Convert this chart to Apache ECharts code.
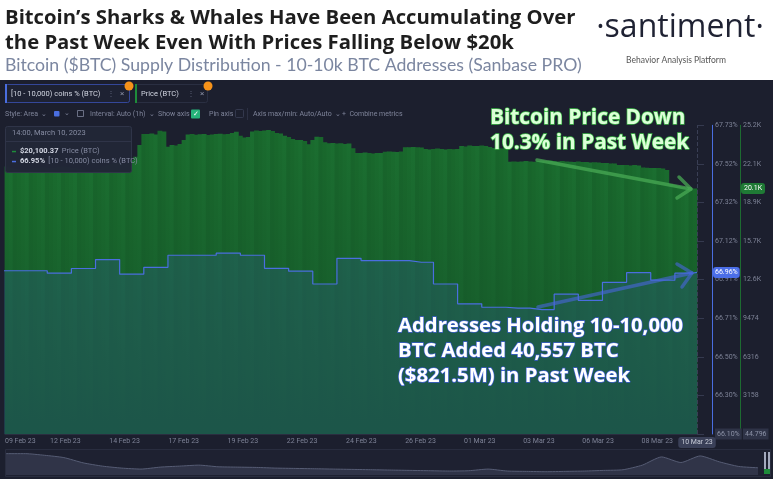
<!DOCTYPE html>
<html><head><meta charset="utf-8">
<script src="https://cdn.jsdelivr.net/npm/echarts@6/dist/echarts.min.js"></script>
<style>html,body{margin:0;padding:0;background:#1c1f2e}#c{width:773px;height:479px}</style>
</head><body><div id="c"></div>
<script>
// ---- data ----
const priceStartUTC = Date.UTC(2023, 1, 9, 20);
const priceStepHours = 4;
const priceUSD = [
  21900, 21800, 21700, 21650, 21600, 21650,
  21700, 21750, 21800, 21850, 21800, 21750,
  21800, 21850, 21900, 21850, 21800, 21750,
  21700, 21600, 21500, 21450, 21600, 21700,
  21900, 22000, 22100, 22200, 22150, 22100,
  22200, 22400, 22690, 23650,
  24550, 24550, 24590, 24510, 24820, 24760,
  23510, 23650, 23610, 23730, 24060, 24510,
  24550, 24490, 24530, 24550, 24470, 24510,
  24550, 24570, 24530, 24550, 24630, 24740,
  24410, 24270, 24310, 24760, 24840, 24800,
  24840, 24880, 24800, 24630, 24590, 24410,
  24310, 24140, 24060, 24060, 23980, 23710,
  24060, 24330, 24310, 23870, 23790, 23820,
  23770, 23790, 23730, 23770, 23380, 23000,
  23000, 23040, 23000, 22960, 23000, 23000,
  23100, 23120, 23100, 23080, 23120, 23460,
  23460, 23490, 23460, 23450, 23320, 23280,
  23320, 23370, 23320, 23280, 23320, 23300,
  23320, 23570, 23530, 23610, 23570, 23570,
  23610, 23570, 23490, 23410, 23380, 23370,
  23380, 22290, 22300, 22290, 22300, 22340,
  22300, 22290, 22340, 22380, 22340, 22380,
  22340, 22300, 22340, 22300, 22290, 22260,
  22300, 22260, 22260, 22220, 22240, 22220,
  22180, 22180, 22140, 22140, 22020, 22020,
  22020, 21970, 22020, 21970, 21810, 21790,
  21770, 21770, 21770, 21730, 21610, 20460,
  20380, 20300, 20210, 20170, 19970, 20100.37
];
const pctStartUTC = Date.UTC(2023, 1, 9);
const pctValues = [
  66.959, 66.959, 66.959, 66.946, 66.971, 67.018, 66.941, 66.977, 67.041, 67.041,
  67.052, 67.041, 66.972, 66.957, 66.889, 67.025, 67.013, 67.013, 67.004, 66.889,
  66.784, 66.766, 66.761, 66.754, 66.835, 66.802, 66.898, 66.949, 66.909, 66.946
];
const pctCurrentTime = Date.UTC(2023, 2, 10, 10);
const pctCurrent = 66.95;
const pctCurrentTag = '66.96%';
const priceCurrent = 20100.37;
const priceCurrentTag = '20.1K';
const xAxisMinUTC = Date.UTC(2023, 1, 9, 18);
const xAxisMaxUTC = Date.UTC(2023, 2, 10, 10);
const xTickTimes = [
  Date.UTC(2023, 1, 9, 18), Date.UTC(2023, 1, 12, 6), Date.UTC(2023, 1, 14, 16, 50),
  Date.UTC(2023, 1, 17, 3, 40), Date.UTC(2023, 1, 19, 14, 30), Date.UTC(2023, 1, 22, 1, 25),
  Date.UTC(2023, 1, 24, 12, 15), Date.UTC(2023, 1, 26, 23, 5), Date.UTC(2023, 2, 1, 10),
  Date.UTC(2023, 2, 3, 20, 50), Date.UTC(2023, 2, 6, 7, 40), Date.UTC(2023, 2, 8, 18, 30)
];
const xCurrentTag = '10 Mar 23';
const pctAxisMin = 66.096, pctAxisMax = 67.728, pctAxisStep = 0.204;
const priceAxisMin = 0, priceAxisMax = 25264, priceAxisStep = 3158;
const priceAxisMinTag = '44.796';
const navValues = [65, 65, 60, 53, 37, 27, 21, 18, 24, 27, 30, 25, 24, 23, 21, 20, 19, 18, 17, 16,
  15, 14, 13, 12, 13, 18, 12, 11, 10, 11, 12, 14, 16, 30, 55, 38, 58, 40, 26, 22];

// ---- build ----
const HOUR = 3600000, DAY = 86400000;
const priceData = priceUSD.map((v, i) => [priceStartUTC + i * priceStepHours * HOUR, v]);
const pctData = pctValues.map((v, i) => [pctStartUTC + i * DAY, v]);
pctData.push([pctCurrentTime, pctCurrent]);
const MONTHS = ['Jan','Feb','Mar','Apr','May','Jun','Jul','Aug','Sep','Oct','Nov','Dec'];
const fmtDay = v => { const d = new Date(v); return String(d.getUTCDate()).padStart(2, '0') + ' ' + MONTHS[d.getUTCMonth()] + ' ' + String(d.getUTCFullYear()).slice(2); };
const stripeShades = ['#1a6b2e', '#19682c', '#1b6f2f', '#18652b', '#1a6a2d', '#1b6e30', '#19672c'];
const UI = 'Roboto, "Noto Sans", sans-serif';
const ANN = '"Open Sans", Lato, sans-serif';

const chart = echarts.init(document.getElementById('c'));
const txt = (text, x, y, size, fill, extra) => ({
  type: 'text', z: 100, style: Object.assign({ text, x, y, fill, fontSize: size, fontFamily: UI, verticalAlign: 'middle' }, extra || {})
});

chart.setOption({
  animation: false,
  backgroundColor: '#1c1f2e',
  grid: [
    { left: 5, right: 76, top: 125.3, bottom: 45 },
    { left: 6, width: 752, top: 452, height: 23 }
  ],
  xAxis: [
    {
      type: 'value', gridIndex: 0, min: xAxisMinUTC, max: xAxisMaxUTC, scale: true,
      axisLine: { show: true, lineStyle: { color: '#2a2e40' } },
      axisTick: { show: false }, splitLine: { show: false },
      axisLabel: { customValues: xTickTimes, formatter: v => fmtDay(v), color: '#7d8296', fontSize: 7, margin: 4, fontFamily: UI, alignMinLabel: 'left' },
      axisPointer: { show: true, value: xAxisMaxUTC, status: 'show', triggerTooltip: false,
        lineStyle: { color: '#3a3f55', width: 1 },
        label: { show: true, formatter: () => xCurrentTag, backgroundColor: '#3a4058', color: '#c9cdd9', fontSize: 7, padding: [2, 3], margin: 3, fontFamily: UI } }
    },
    { type: 'category', gridIndex: 1, show: false, boundaryGap: false, data: navValues.map((v, i) => i) }
  ],
  yAxis: [
    {
      type: 'value', gridIndex: 0, position: 'right', offset: 15,
      min: pctAxisMin, max: pctAxisMax, interval: pctAxisStep,
      axisLine: { show: true, lineStyle: { color: '#4a6ee0', width: 1 } },
      axisTick: { show: false }, splitLine: { show: false },
      axisLabel: {
        color: '#7d8296', fontSize: 7, margin: 3, fontFamily: UI,
        formatter: v => Math.abs(v - pctAxisMin) < 1e-6 ? '{box|' + v.toFixed(2) + '%}' : v.toFixed(2) + '%',
        rich: { box: { backgroundColor: '#2e3347', padding: [2, 2], color: '#8d93a8', fontSize: 7 } }
      },
      axisPointer: { show: true, value: pctCurrent, status: 'show', triggerTooltip: false,
        lineStyle: { opacity: 0 },
        label: { show: true, formatter: () => pctCurrentTag, backgroundColor: '#4b6ee8', color: '#ffffff', fontSize: 7, padding: [2, 2], margin: 1, fontFamily: UI } }
    },
    {
      type: 'value', gridIndex: 0, position: 'right', offset: 43,
      min: priceAxisMin, max: priceAxisMax, interval: priceAxisStep,
      axisLine: { show: true, lineStyle: { color: '#1d6b31', width: 1 } },
      axisTick: { show: false }, splitLine: { show: false },
      axisLabel: {
        color: '#7d8296', fontSize: 7, margin: 3, fontFamily: UI,
        formatter: v => v === priceAxisMin ? '{box|' + priceAxisMinTag + '}' : (v >= 10000 ? (Math.floor(v / 100) / 10).toFixed(1) + 'K' : String(v)),
        rich: { box: { backgroundColor: '#2e3347', padding: [2, 2], color: '#8d93a8', fontSize: 7 } }
      },
      axisPointer: { show: true, value: priceCurrent, status: 'show', triggerTooltip: false,
        lineStyle: { opacity: 0 },
        label: { show: true, formatter: () => priceCurrentTag, backgroundColor: '#1f7a35', color: '#ffffff', fontSize: 7, padding: [2, 3], margin: 1, fontFamily: UI } }
    },
    {
      type: 'value', gridIndex: 0, position: 'right', offset: 0,
      min: pctAxisMin, max: pctAxisMax, interval: pctAxisStep,
      axisLine: { show: false }, axisLabel: { show: false }, splitLine: { show: false },
      axisTick: { show: true, length: 7, lineStyle: { color: '#353a4f' } }
    },
    { type: 'value', gridIndex: 1, show: false, min: 0, max: 70 }
  ],
  series: [
    {
      type: 'bar', xAxisIndex: 0, yAxisIndex: 1, data: priceData, barWidth: 4.8, z: 2,
      itemStyle: {
        color: p => {
          const c = stripeShades[(p.dataIndex * 5 + (p.dataIndex >> 2)) % stripeShades.length];
          return { type: 'linear', x: 0, y: 0, x2: 0, y2: 1, colorStops: [{ offset: 0, color: c }, { offset: 1, color: '#15552a' }] };
        }
      }
    },
    {
      type: 'line', xAxisIndex: 0, yAxisIndex: 0, data: pctData, step: 'middle', symbol: 'none', z: 3,
      lineStyle: { color: '#4a6ee0', width: 1.2 },
      areaStyle: { origin: 'start', color: 'rgba(58,90,190,0.30)' }
    },
    {
      type: 'line', xAxisIndex: 1, yAxisIndex: 3, data: navValues, symbol: 'none', smooth: 0.2, z: 3,
      lineStyle: { color: '#565c74', width: 1 },
      areaStyle: { color: '#383d52' }
    }
  ],
  graphic: { elements: [
    { type: 'rect', z: 50, shape: { x: 0, y: 0, width: 773, height: 80 }, style: { fill: '#ffffff' } },
    txt('Bitcoin’s Sharks & Whales Have Been Accumulating Over', 5, 18, 20.3, '#1e1e1e', { fontFamily: '"Open Sans", sans-serif', fontWeight: 'bold' }),
    txt('the Past Week Even With Prices Falling Below $20k', 5, 43, 20.3, '#1e1e1e', { fontFamily: '"Open Sans", sans-serif', fontWeight: 'bold' }),
    txt('Bitcoin ($BTC) Supply Distribution - 10-10k BTC Addresses (Sanbase PRO)', 5, 65, 17.7, '#7b86a0', { fontFamily: 'Lato, sans-serif' }),
    txt('·santiment·', 680, 28, 32, '#1f2233', { fontFamily: '"Open Sans", sans-serif', align: 'center' }),
    txt('Behavior Analysis Platform', 676, 60, 8.5, '#555555', { fontFamily: 'Lato, sans-serif', align: 'center' }),

    { type: 'rect', z: 100, shape: { x: 5.5, y: 84.5, width: 124, height: 18, r: 2 }, style: { fill: '#1e2233', stroke: '#34479a', lineWidth: 1 } },
    { type: 'rect', z: 101, shape: { x: 5, y: 84, width: 2, height: 19 }, style: { fill: '#4a6ee0' } },
    txt('[10 - 10,000) coins % (BTC)', 11, 94, 7.5, '#d2d6e2'),
    txt('⋮', 107, 94, 8, '#5d6278'),
    txt('×', 120, 94, 8, '#8a8fa3'),
    { type: 'circle', z: 102, shape: { cx: 129, cy: 86, r: 4.5 }, style: { fill: '#f7931a' } },
    txt('B', 129, 86.3, 5.5, '#ffffff', { align: 'center', fontWeight: 'bold' }),
    { type: 'rect', z: 100, shape: { x: 135.5, y: 84.5, width: 72, height: 18, r: 2 }, style: { fill: '#1c1f2e', stroke: '#2a2f42', lineWidth: 1 } },
    { type: 'rect', z: 101, shape: { x: 135, y: 84, width: 2, height: 19 }, style: { fill: '#1e8c3a' } },
    txt('Price (BTC)', 141, 94, 7.5, '#d2d6e2'),
    txt('⋮', 187, 94, 8, '#5d6278'),
    txt('×', 200, 94, 8, '#8a8fa3'),
    { type: 'circle', z: 102, shape: { cx: 208, cy: 86, r: 4.5 }, style: { fill: '#f7931a' } },
    txt('B', 208, 86.3, 5.5, '#ffffff', { align: 'center', fontWeight: 'bold' }),

    txt('Style: Area  ⌄', 5, 114, 7, '#7f849a'),
    { type: 'rect', z: 100, shape: { x: 54, y: 111, width: 5.5, height: 5.5, r: 1 }, style: { fill: '#4a6ee0' } },
    txt('⌄', 64, 113, 7, '#7f849a'),
    { type: 'rect', z: 100, shape: { x: 77.5, y: 110.5, width: 6, height: 6 }, style: { fill: 'none', stroke: '#7f849a', lineWidth: 0.8 } },
    txt('Interval: Auto (1h)  ⌄', 90, 114, 7, '#7f849a'),
    txt('Show axis', 158, 114, 7, '#7f849a'),
    { type: 'rect', z: 100, shape: { x: 191, y: 109.5, width: 9, height: 9, r: 1 }, style: { fill: '#26b37a' } },
    txt('✓', 195.5, 114, 7, '#ffffff', { align: 'center' }),
    txt('Pin axis', 209, 114, 7, '#7f849a'),
    { type: 'rect', z: 100, shape: { x: 235.5, y: 109.5, width: 8, height: 8, r: 1 }, style: { fill: 'none', stroke: '#3a3f55', lineWidth: 0.8 } },
    { type: 'line', z: 100, shape: { x1: 247.5, y1: 108, x2: 247.5, y2: 120 }, style: { stroke: '#2c3043', lineWidth: 1 } },
    txt('Axis max/min: Auto/Auto  ⌄', 253, 114, 7, '#7f849a'),
    txt('+  Combine metrics', 342, 114, 7, '#7f849a'),

    { type: 'rect', z: 110, shape: { x: 5.5, y: 126.5, width: 126, height: 46, r: 2 }, style: { fill: 'rgba(34,38,55,0.97)', stroke: '#2f3448', lineWidth: 1 } },
    Object.assign(txt('14:00, March 10, 2023', 12, 133.5, 7.5, '#868ca2'), { z: 111 }),
    { type: 'line', z: 111, shape: { x1: 6, y1: 141.5, x2: 131, y2: 141.5 }, style: { stroke: '#2f3448', lineWidth: 1 } },
    { type: 'rect', z: 111, shape: { x: 12, y: 150.8, width: 4, height: 1.5 }, style: { fill: '#1e8c3a' } },
    { type: 'text', z: 111, style: { text: '{b|$' + priceCurrent.toLocaleString('en-US', { minimumFractionDigits: 2 }) + '} {n|Price (BTC)}', x: 20, y: 151.5, verticalAlign: 'middle',
      rich: { b: { fontSize: 7.5, fontWeight: 'bold', fill: '#d2d6e2', fontFamily: UI }, n: { fontSize: 7.5, fill: '#868ca2', fontFamily: UI } } } },
    { type: 'rect', z: 111, shape: { x: 12, y: 160.8, width: 4, height: 1.5 }, style: { fill: '#4a6ee0' } },
    { type: 'text', z: 111, style: { text: '{b|' + pctCurrent.toFixed(2) + '%} {n|[10 - 10,000) coins % (BTC)}', x: 20, y: 161.5, verticalAlign: 'middle',
      rich: { b: { fontSize: 7.5, fontWeight: 'bold', fill: '#d2d6e2', fontFamily: UI }, n: { fontSize: 7.5, fill: '#868ca2', fontFamily: UI } } } },

    { type: 'polyline', z: 90, shape: { points: [[537, 160], [691, 189]] }, style: { stroke: 'rgba(72,170,84,0.75)', lineWidth: 3.5, lineCap: 'round', fill: 'none' } },
    { type: 'polyline', z: 90, shape: { points: [[679, 177], [691, 189], [677, 198]] }, style: { stroke: 'rgba(72,170,84,0.75)', lineWidth: 3.5, lineCap: 'round', lineJoin: 'round', fill: 'none' } },
    { type: 'polyline', z: 90, shape: { points: [[538, 307], [692, 273]] }, style: { stroke: 'rgba(72,102,222,0.6)', lineWidth: 3.5, lineCap: 'round', fill: 'none' } },
    { type: 'polyline', z: 90, shape: { points: [[677, 264], [692, 273], [682, 287]] }, style: { stroke: 'rgba(72,102,222,0.6)', lineWidth: 3.5, lineCap: 'round', lineJoin: 'round', fill: 'none' } },
    txt('Bitcoin Price Down', 490, 118, 20.8, '#dcffd8', { fontFamily: ANN, fontWeight: 'bold', stroke: '#3dbb48', lineWidth: 1.4 }),
    txt('10.3% in Past Week', 490, 143, 20.8, '#dcffd8', { fontFamily: ANN, fontWeight: 'bold', stroke: '#3dbb48', lineWidth: 1.4 }),
    txt('Addresses Holding 10-10,000', 398, 326, 20.3, '#ffffff', { fontFamily: ANN, fontWeight: 'bold', stroke: '#3f5fd6', lineWidth: 1.3 }),
    txt('BTC Added 40,557 BTC', 398, 351, 20.3, '#ffffff', { fontFamily: ANN, fontWeight: 'bold', stroke: '#3f5fd6', lineWidth: 1.3 }),
    txt('($821.5M) in Past Week', 398, 376, 20.3, '#ffffff', { fontFamily: ANN, fontWeight: 'bold', stroke: '#3f5fd6', lineWidth: 1.3 }),

    { type: 'rect', z: 1, shape: { x: 5.5, y: 449.5, width: 765, height: 27 }, style: { fill: '#1e2131', stroke: '#292d3f', lineWidth: 1 } },
    { type: 'rect', z: 100, shape: { x: 764, y: 452, width: 2, height: 17 }, style: { fill: '#a4aabd' } },
    { type: 'rect', z: 100, shape: { x: 768, y: 452, width: 2, height: 17 }, style: { fill: '#a4aabd' } },
    { type: 'rect', z: 100, shape: { x: 764, y: 469, width: 6, height: 5 }, style: { fill: '#1e8c3a' } }
  ] }
});
</script></body></html>
